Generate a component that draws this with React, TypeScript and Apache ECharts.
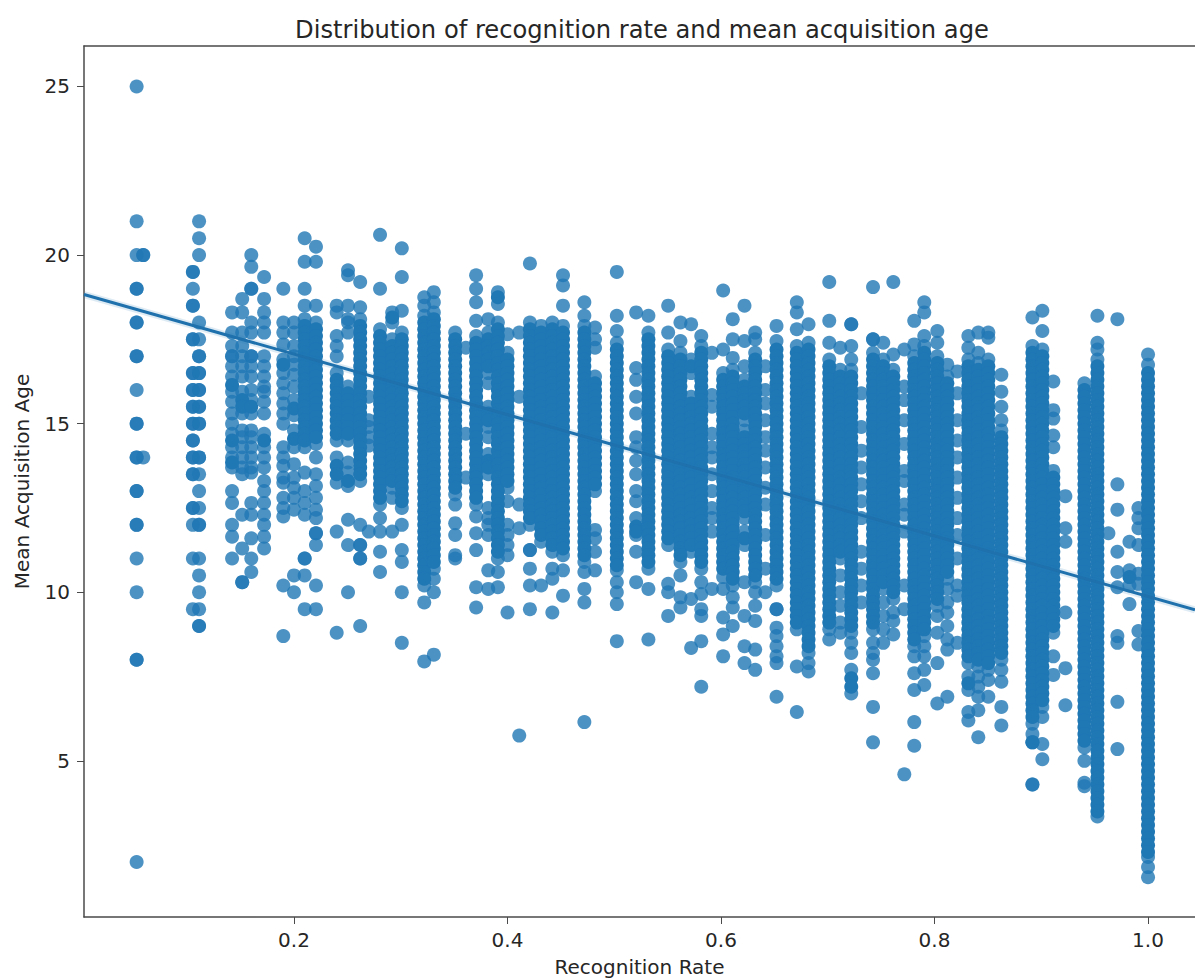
import React, { useEffect, useRef } from "react";
import * as echarts from "echarts";

const titleText = "Distribution of recognition rate and mean acquisition age";
const xName = "Recognition Rate";
const yName = "Mean Acquisition Age";
const xTicks = [0.2, 0.4, 0.6, 0.8, 1.0];
const yTicks = [5, 10, 15, 20, 25];

const fitRate = [0.0033, 1.044];
const fitAge = [18.83, 9.48];

const r01 = [25,21,20,19,19,18,18,17,17,16,15,15,14,14,13,13,12,12,11,10,8,8,2];
const r02 = [20,20,14];
const r03 = [19.5,19.5,19,18.5,18.5,17.5,17.5,16.5,16.5,16,16,15.5,15.5,15,15,14.5,14.5,14,14,13.5,13.5,12.5,12.5,12,11,9.5];
const r04 = [21,20.5,20,18,17.5,17,17,16.5,16.5,16,16,15.5,15.5,15,15,14,14,13.5,13,12.5,12,12,11,10.5,10,9.5,9,9];
const r05 = [18.3,17.7,17.3,17,17,16.7,16.4,16.15,15.95,15.65,15.3,15,14.7,14.5,14.3,14,13.85,13.7,13,12.65,12,11.65,11];
const r06 = [18.7,18.3,17.7,17.3,17,16.7,16.4,15.95,15.7,15.5,15.3,14.8,14.6,14.3,14,13.7,13.5,12.3,11.3,10.3,10.3];
const r07 = [20,19.65,19,19,18,17.7,17,17,16.7,16.4,16,15.7,15.5,15.3,14.8,14.6,14.3,14,13.7,13.55,12.65,12.3,11.6,11,10.6];
const r08 = [19.35,18.7,18.3,18,17.7,17,16.7,16.4,16.1,15.95,15.65,15.3,14.7,14.5,14.3,14,13.7,13.3,13,12.65,12.3,12,11.65,11.3];
const r09 = [19,18,17.7,17.35,16.9,16.75,16.5,16.2,15.9,15.6,15.3,15,14.3,14,13.75,13.4,13.25,12.8,12.5,12.25,10.2,8.7];
const r10 = [18,17.7,17.3,17,16.75,16.45,16.1,15.7,15.45,15.25,14.8,14.55,14.3,13.8,13.4,13.1,12.8,12.45,10.5,10];
const r11 = [20.5,19.8,19,18.5,18.1,17.9,17.7,17.5,17.3,17.1,16.9,16.7,16.5,16.3,16.1,15.9,15.7,15.5,15.3,15.1,14.9,14.7,14.5,14.3,13.55,13,12.65,12.3,11,11,10.5,9.5];
const r12 = [20.25,19.8,18.5,18,17.8,17.6,17.4,17.2,17,16.8,16.6,16.4,16.2,16,15.8,15.6,15.4,15.2,15,14.8,14.6,14.4,14,13.5,13.15,12.8,12.45,12.2,11.75,11.75,11.4,10.2,9.5];
const r13 = [18.5,18.3,17.6,17.3,17,16.5,16.3,16.1,15.9,15.7,15.5,15.3,15.1,14.9,14.7,14.5,14,13.75,13.5,13.25,11.8,8.8];
const r14 = [19.55,19.4,18.5,18.1,18,17.7,16.1,15.9,15.7,15.5,15.3,15.1,14.9,14.7,14.5,13.85,13.55,13.3,13.15,12.15,11.4,10];
const r15 = [19.2,18.45,18.1,17.9,17.7,17.5,17.3,17.1,16.9,16.7,16.5,16.3,16.1,15.9,15.7,15.5,15.3,15.1,14.9,14.7,14.5,14.3,14.1,13.9,13.7,13.5,13.3,12,11.4,11.4,11,11,9];
const r16 = [15.8,15.1,14.9,14.6,14.35,11.8];
const r17 = [20.6,19,17.8,17.6,17.4,17.2,17,16.8,16.6,16.4,16.2,16,15.8,15.6,15.4,15.2,15,14.8,14.6,14.4,14.2,14,13.8,13.6,13.4,13.2,13,12.8,12.6,12.2,11.8,11.2,10.6];
const r18 = [18.3,18.15,18,17.5,17.3,17.1,16.9,16.7,16.5,16.3,16.1,15.9,15.7,15.5,15.3,15.1,14.9,14.7,14.5,14.3,14.1,13.9,13.7,13.5,13.3,13.1,12.8,11.8];
const r19 = [20.2,19.35,18.35,17.7,17.5,17.3,17.1,16.9,16.7,16.5,16.3,16.1,15.9,15.7,15.5,15.3,15.1,14.9,14.7,14.5,14.3,14.1,13.9,13.7,13.5,13.3,13.1,12.9,12.7,12.5,12,11.25,10.9,10,8.5];
const r20 = [18.75,18.5,18.2,18,17.8,17.6,17.4,17.2,17,16.8,16.6,16.4,16.2,16,15.8,15.6,15.4,15.2,15,14.8,14.6,14.4,14.2,14,13.8,13.6,13.4,13.2,13,12.8,12.6,12.4,12.2,12,11.8,11.6,11.4,11.2,11,10.8,10.6,10.4,10.2,9.7,7.95];
const r21 = [18.9,18.6,18.3,18.1,17.9,17.7,17.5,17.3,17.1,16.9,16.7,16.5,16.3,16.1,15.9,15.7,15.5,15.3,15.1,14.9,14.7,14.5,14.3,14.1,13.9,13.7,13.5,13.3,13.1,12.9,12.7,12.5,12.3,12.1,11.9,11.7,11.5,11.3,11.1,10.9,10.7,10.4,10,8.15];
const r22 = [17.7,17.5,17.3,17.1,16.9,16.7,16.5,16.3,16.1,15.9,15.7,15.5,15.3,15.1,14.9,14.7,14.5,14.3,14.1,13.9,13.7,13.5,13.3,13.1,12.9,12.6,12.05,11.7,11.1,11];
const r23 = [17.25,14.7,13.4];
const r24 = [19.4,19,18.6,18.05,17.6,17.4,17.2,17,16.8,16.6,16.4,16.2,16,15.8,15.6,15.4,15.2,15,14.8,14.6,14.4,14.2,14,13.8,13.6,13.4,13.2,13,12.8,12.6,12.25,11.75,11.25,10.15,9.55];
const r25 = [18.1,17.7,17.5,17.3,17.1,16.9,16.7,16.5,16.2,15.5,15.3,15.1,14.9,14.6,14.1,13.9,13.7,13.5,12.5,12.2,12,11.7,10.65,10.1];
const r26 = [18.9,18.75,18.55,18,17.8,17.6,17.4,17.2,17,16.8,16.6,16.4,16.2,16,15.8,15.6,15.4,15.2,15,14.8,14.6,14.4,14.2,14,13.8,13.6,13.4,13.2,13,12.8,12.6,12.4,12.2,12,11.8,11.6,11.4,11.2,11,10.6,10.15];
const r27 = [17.65,17.1,16.9,16.7,16.5,16.3,16.1,15.9,15.7,15.5,15.3,15.1,14.9,14.7,14.5,14.3,14.1,13.9,13.7,13.5,13.3,13.1,12.7,12,11.7,11.4,11.1,9.4];
const r28 = [17.7,15.8,12.6,11.9,5.75];
const r29 = [19.75,18,17.8,17.6,17.4,17.2,17,16.8,16.6,16.4,16.2,16,15.8,15.6,15.4,15.2,15,14.8,14.6,14.4,14.2,14,13.8,13.6,13.4,13.2,13,12.8,12.6,12.4,12.2,12,11.25,11.25,10.7,10.2,9.5];
const r30 = [17.9,17.7,17.5,17.3,17.1,16.9,16.7,16.5,16.3,16.1,15.9,15.7,15.5,15.3,15.1,14.9,14.7,14.5,14.3,14.1,13.9,13.7,13.5,13.3,13.1,12.9,12.7,12.5,12.3,12.1,11.9,11.7,11.5,10.2];
const r31 = [18,17.8,17.6,17.4,17.2,17,16.8,16.6,16.4,16.2,16,15.8,15.6,15.4,15.2,15,14.8,14.6,14.4,14.2,14,13.8,13.6,13.4,13.2,13,12.8,12.6,12.4,12.2,12,11.8,11.6,11.4,11.2,10.7,10.4,9.4];
const r32 = [19.4,19.1,18.5,17.9,17.7,17.5,17.3,17.1,16.9,16.7,16.5,16.3,16.1,15.9,15.7,15.5,15.3,15.1,14.9,14.7,14.5,14.3,14.1,13.9,13.7,13.5,13.3,13.1,12.9,12.7,12.5,12.3,12.1,11.9,11.7,11.5,11.3,11.1,10.65,9.9];
const r33 = [18.6,18.2,17.9,17.7,17.5,17.3,17.1,16.9,16.7,16.5,16.3,16.1,15.9,15.7,15.5,15.3,15.1,14.9,14.7,14.5,14.3,14.1,13.9,13.7,13.5,13.3,13.1,12.9,12.7,12.5,12.3,12.1,11.9,11.7,11.5,11.3,11.1,10.9,10.6,10.1,9.7,6.15];
const r34 = [17.85,17.5,17.25,16.4,16.2,16,15.8,15.6,15.4,15.2,15,14.8,14.6,14.4,14.2,14,13.8,13.6,13.4,13.2,13,11.85,11.6,11.2,10.65];
const r35 = [19.5,18.2,17.75,17.4,17.2,17,16.8,16.6,16.4,16.2,16,15.8,15.6,15.4,15.2,15,14.8,14.6,14.4,14.2,14,13.8,13.6,13.4,13.2,13,12.8,12.6,12.4,12.2,12,11.8,11.6,11.4,11.2,11,10.8,10.65,10.3,10,9.65,8.55];
const r36 = [18.3,16.65,16.3,15.8,15.3,14.6,14.3,13.9,13.5,13,12.7,12.2,11.95,11.8,11.7,11.2,10.3];
const r37 = [18.2,17.7,17.5,17.3,17.1,16.9,16.7,16.5,16.3,16.1,15.9,15.7,15.5,15.3,15.1,14.9,14.7,14.5,14.3,14.1,13.9,13.7,13.5,13.3,13.1,12.9,12.7,12.5,12.3,12.1,11.9,11.7,11.5,11.3,11.1,10.9,10.7,10.1,8.6];
const r38 = [18.5,17.7,17.2,17,16.8,16.6,16.4,16.2,16,15.8,15.6,15.4,15.2,15,14.8,14.6,14.4,14.2,14,13.8,13.6,13.4,13.2,13,12.8,12.6,12.4,12.2,12,11.8,11.6,11.4,10.25,10,9.3];
const r39 = [18,17.45,17.1,16.9,16.7,16.5,16.3,16.1,15.9,15.7,15.5,15.3,15.1,14.9,14.7,14.5,14.3,14.1,13.9,13.7,13.5,13.3,13.1,12.9,12.7,12.5,12.3,12.1,11.9,11.7,11.5,11.3,11.1,10.9,10.5,9.85,9.55];
const r40 = [17.95,16.9,16.7,16.5,15.8,15.6,15.4,15.2,15,14.8,14.6,14.4,14.2,14,13.8,13.6,13.4,13.2,13,12.8,12.6,12.4,12.2,12,11.8,11.6,11.4,11.2,9.8,8.35];
const r41 = [17.6,17.3,17.1,16.9,16.7,16.5,16.3,16.1,15.9,15.7,15.5,15.3,15.1,14.9,14.7,14.5,14.3,14.1,13.9,13.7,13.5,13.3,13.1,12.9,12.7,12.5,12.3,12.1,11.9,11.7,11.5,11.3,11.1,10.9,10.7,10.3,9.95,9.5,9.3,8.55,7.2];
const r42 = [17.1,15.85,15.5,14.7,14.3,14,13.5,13,12.5,12.2,11.8,10.1];
const r43 = [18.95,17.2,16.5,16.3,16.1,15.9,15.7,15.5,15.3,15.1,14.9,14.7,14.5,14.3,14.1,13.9,13.7,13.5,13.3,13.1,12.9,12.7,12.5,12.3,12.1,11.9,11.7,11.5,11.3,11.1,10.9,10.7,10.45,10.1,9.25,8.75,8.1];
const r44 = [18.1,17.5,16.95,16.6,16.4,16.2,16,15.8,15.6,15.4,15.2,15,14.8,14.6,14.4,14.2,14,13.8,13.6,13.4,13.2,13,12.8,12.6,12.4,12.2,12,11.8,11.6,11.4,11.2,11,10.8,10.6,10.4,10.2,9.85,9.55,9];
const r45 = [18.5,17.45,16.7,16.3,16.1,15.9,15.7,15.5,15.3,15.1,14.8,14.6,14.4,14.2,14,13.8,13.6,13.4,13.2,13,12.8,12.6,12.4,12.2,11.8,11.6,11.4,10.3,9.3,8.4,7.9];
const r46 = [17.7,17.5,17.1,16.9,16.7,16.5,16.3,16.1,15.9,15.7,15.5,15.3,15.1,14.9,14.7,14.5,14.3,14.1,13.9,13.7,13.5,13.3,13.1,12.9,12.7,12.5,12.3,12.1,11.9,11.7,11.5,11.3,11.1,10.9,10.7,10.5,10.3,10,9.6,9.15,8.3,7.7];
const r47 = [16.7,16,15.6,15.1,14.6,14.2,13.7,13.1,12.6,11.7,10.7,10];
const r48 = [17.9,17.45,17.2,17,16.8,16.6,16.4,16.2,16,15.8,15.6,15.4,15.2,15,14.8,14.6,14.4,14.2,14,13.8,13.6,13.4,13.2,13,12.8,12.6,12.4,12.2,12,11.8,11.6,11.4,11.2,11,10.8,10.6,10.4,10.2,9.5,9.5,8.95,8.7,8.4,8.1,7.9,6.9];
const r49 = [18.6,18.3,17.8,17.3,17.1,16.9,16.7,16.5,16.3,16.1,15.9,15.7,15.5,15.3,15.1,14.9,14.7,14.5,14.3,14.1,13.9,13.7,13.5,13.3,13.1,12.9,12.7,12.5,12.3,12.1,11.9,11.7,11.5,11.3,11.1,10.9,10.7,10.5,10.3,10.1,9.9,9.7,9.5,9.3,9.1,8.9,7.8,6.45];
const r50 = [17.95,17.4,17.2,17,16.8,16.6,16.4,16.2,16,15.8,15.6,15.4,15.2,15,14.8,14.6,14.4,14.2,14,13.8,13.6,13.4,13.2,13,12.8,12.6,12.4,12.2,12,11.8,11.6,11.4,11.2,11,10.8,10.6,10.4,10.2,10,9.8,9.6,9.4,9.2,9,8.8,8.6,8.4,8.2,7.9,7.65];
const r51 = [19.2,18.05,17.4,16.9,16.7,16.5,16.3,16.1,15.9,15.7,15.5,15.3,15.1,14.9,14.7,14.5,14.3,14.1,13.9,13.7,13.5,13.3,13.1,12.9,12.7,12.5,12.3,12.1,11.9,11.7,11.5,11.3,11.1,10.9,10.7,10.5,10.3,10.1,9.9,9.7,9.5,9.3,9.1,8.9,8.6];
const r52 = [17.25,16.6,16.4,16.2,16,15.8,15.6,15.4,15.2,15,14.8,14.6,14.4,14.2,14,13.8,13.6,13.4,13.2,13,12.8,12.6,12.4,12.2,12,11.8,11.6,11.4,11.2,11,10.5,10,9.6,9.1,8.8];
const r53 = [17.95,17.95,17.3,16.9,16.6,16.4,16.2,16,15.8,15.6,15.4,15.2,15,14.8,14.6,14.4,14.2,14,13.8,13.6,13.4,13.2,13,12.8,12.6,12.4,12.2,12,11.8,11.6,11.4,11.2,11,10.8,10.6,10.4,10.2,10,9.8,9.6,9.4,9.2,9,8.8,8.5,8.2,7.7,7.45,7.2,7];
const r54 = [15.9,14.9,14.2,13.7,13.2,12.7,12.2,11.2,10.7,10.2,9.7];
const r55 = [19.05,17.5,17.5,17.1,16.9,16.7,16.5,16.3,16.1,15.9,15.7,15.5,15.3,15.1,14.9,14.7,14.5,14.3,14.1,13.9,13.7,13.5,13.3,13.1,12.9,12.7,12.5,12.3,12.1,11.9,11.7,11.5,11.3,11.1,10.9,10.7,10.5,10.3,10.1,9.9,9.7,9.5,9.3,9.1,8.9,8.5,8.2,8,7.6,6.6,5.55];
const r56 = [17.4,16.9,16.7,16.5,16.3,16.1,15.9,15.7,15.5,15.3,15.1,14.9,14.7,14.5,14.3,14.1,13.9,13.7,13.5,13.3,13.1,12.9,12.7,12.5,12.3,12.1,11.9,11.7,11.5,11.3,11.1,10.9,10.7,10.5,10.3,10.1,9.7,9.3,8.9,8.5];
const r57 = [19.2,17.05,16.6,16.4,16.2,16,15.8,15.6,15.4,15.2,15,14.8,14.6,14.4,14.2,14,13.8,13.6,13.4,13.2,13,12.8,12.6,12.4,12.2,12,11.8,11.6,11.4,11.2,11,10.8,10.6,10.4,10.2,10,9.8,9.4,9.15,8.75];
const r58 = [17.2,16.1,15.7,15.1,14.4,13.6,13.3,12.6,12.3,11.8,10.2,9.5,4.6];
const r59 = [18.05,17.35,17,16.8,16.6,16.4,16.2,16,15.8,15.6,15.4,15.2,15,14.8,14.6,14.4,14.2,14,13.8,13.6,13.4,13.2,13,12.8,12.6,12.4,12.2,12,11.8,11.6,11.4,11.2,11,10.8,10.6,10.4,10.2,10,9.8,9.6,9.4,9.2,9,8.8,8.6,8.4,8.1,7.6,7.1,6.15,5.45];
const r60 = [18.6,18.3,17.6,17.3,17.1,16.9,16.7,16.5,16.3,16.1,15.9,15.7,15.5,15.3,15.1,14.9,14.7,14.5,14.3,14.1,13.9,13.7,13.5,13.3,13.1,12.9,12.7,12.5,12.3,12.1,11.9,11.7,11.5,11.3,11.1,10.9,10.7,10.5,10.3,10.1,9.9,9.7,9.5,9.3,9.1,8.9,8.7,8.4,8.1,7.7,7.25];
const r61 = [17.75,17.4,17,16.8,16.6,16.4,16.2,16,15.8,15.6,15.4,15.2,15,14.8,14.6,14.4,14.2,14,13.8,13.6,13.4,13.2,13,12.8,12.6,12.4,12.2,12,11.8,11.6,11.4,11.2,11,10.8,10.6,10.4,10.2,10,9.8,9.6,9.3,8.8,7.9,6.7];
const r62 = [16.75,16.4,16.2,16,15.8,15.6,15.4,15.2,15,14.8,14.6,14.4,14.2,14,13.8,13.6,13.4,13.2,13,12.8,12.6,12.4,12.2,12,11.8,11.6,11.4,11.2,11,10.8,10.6,10.4,10.1,9.7,9.4,9,8.6,8.3,6.9];
const r63 = [16.55,15.9,15.1,14.5,14,13.4,12.8,12.2,11.7,11,10.2,9.9,8.5];
const r64 = [17.6,17.25,16.9,16.7,16.5,16.3,16.1,15.9,15.7,15.5,15.3,15.1,14.9,14.7,14.5,14.3,14.1,13.9,13.7,13.5,13.3,13.1,12.9,12.7,12.5,12.3,12.1,11.9,11.7,11.5,11.3,11.1,10.9,10.7,10.5,10.3,10.1,9.9,9.7,9.5,9.3,9.1,8.9,8.7,8.5,8.3,8.1,7.9,7.5,7.3,7.1,6.45,6.2];
const r65 = [17.7,17.1,16.8,16.6,16.4,16.2,16,15.8,15.6,15.4,15.2,15,14.8,14.6,14.4,14.2,14,13.8,13.6,13.4,13.2,13,12.8,12.6,12.4,12.2,12,11.8,11.6,11.4,11.2,11,10.8,10.6,10.4,10.2,10,9.8,9.6,9.4,9.2,9,8.8,8.6,8.4,8.2,8,7.8,7.5,7.2,6.9,6.5,5.7];
const r66 = [17.7,17.55,16.9,16.7,16.5,16.3,16.1,15.9,15.7,15.5,15.3,15.1,14.9,14.7,14.5,14.3,14.1,13.9,13.7,13.5,13.3,13.1,12.9,12.7,12.5,12.3,12.1,11.9,11.7,11.5,11.3,11.1,10.9,10.7,10.5,10.3,10.1,9.9,9.7,9.5,9.3,9.1,8.9,8.7,8.5,8.3,8.1,7.9,7.7,7.4,6.9];
const r67 = [16.45,15.95,15.5,15.1,14.8,14.6,14.4,14.2,14,13.8,13.6,13.4,13.2,13,12.8,12.6,12.4,12.2,12,11.8,11.6,11.4,11.2,11,10.8,10.6,10.4,10.2,10,9.8,9.6,9.4,9.2,9,8.8,8.6,8.4,8.2,8,7.7,7.35,6.6,6.05];
const r68 = [18.15,17.3,17.1,16.9,16.7,16.5,16.3,16.1,15.9,15.7,15.5,15.3,15.1,14.9,14.7,14.5,14.3,14.1,13.9,13.7,13.5,13.3,13.1,12.9,12.7,12.5,12.3,12.1,11.9,11.7,11.5,11.3,11.1,10.9,10.7,10.5,10.3,10.1,9.9,9.7,9.5,9.3,9.1,8.9,8.7,8.5,8.3,8.1,7.9,7.7,7.5,7.3,7.1,6.9,6.7,6.5,6.3,6.1,5.8,5.55,5.55,4.3,4.3];
const r69 = [18.35,17.75,17.2,17,16.8,16.6,16.4,16.2,16,15.8,15.6,15.4,15.2,15,14.8,14.6,14.4,14.2,14,13.8,13.6,13.4,13.2,13,12.8,12.6,12.4,12.2,12,11.8,11.6,11.4,11.2,11,10.8,10.6,10.4,10.2,10,9.8,9.6,9.4,9.2,9,8.8,8.6,8.4,8.2,8,7.8,7.6,7.4,7.2,7,6.8,6.6,6.3,5.5,5.05];
const r70 = [16.25,15.4,15.15,14.65,14.3,13.6,13.4,13.2,13,12.8,12.6,12.4,12.2,12,11.8,11.6,11.4,11.2,11,10.8,10.6,10.4,10.2,10,9.8,9.6,9.4,9.2,9,8.8,8.1,7.55];
const r71 = [12.85,11.9,11.5,9.4,7.75,6.65];
const r72 = [16.2,16,15.8,15.6,15.4,15.2,15,14.8,14.6,14.4,14.2,14,13.8,13.6,13.4,13.2,13,12.8,12.6,12.4,12.2,12,11.8,11.6,11.4,11.2,11,10.8,10.6,10.4,10.2,10,9.8,9.6,9.4,9.2,9,8.8,8.6,8.4,8.2,8,7.8,7.6,7.4,7.2,7,6.8,6.6,6.4,6.2,6,5.8,5.6,5.4,5,4.35,4.25];
const r73 = [18.2,17.4,17.2,16.9,16.7,16.5,16.3,16.1,15.9,15.7,15.5,15.3,15.1,14.9,14.7,14.5,14.3,14.1,13.9,13.7,13.5,13.3,13.1,12.9,12.7,12.5,12.3,12.1,11.9,11.7,11.5,11.3,11.1,10.9,10.7,10.5,10.3,10.1,9.9,9.7,9.5,9.3,9.1,8.9,8.7,8.5,8.3,8.1,7.9,7.7,7.5,7.3,7.1,6.9,6.7,6.5,6.3,6.1,5.9,5.7,5.5,5.3,5.1,4.9,4.7,4.5,4.3,4.1,3.9,3.7,3.5,3.35];
const r74 = [11.75];
const r75 = [18.1,13.2,12.45,11.2,10.6,10.15,8.7,8.5,6.75,5.35];
const r76 = [11.5,10.65,10.45,10.2,9.65];
const r77 = [12.5,12.2,11.9,11.4,10.55,10.25,8.85,8.45];
const r78 = [17.05,16.75,16.5,16.3,16.1,15.9,15.7,15.5,15.3,15.1,14.9,14.7,14.5,14.3,14.1,13.9,13.7,13.5,13.3,13.1,12.9,12.7,12.5,12.3,12.1,11.9,11.7,11.5,11.3,11.1,10.9,10.7,10.5,10.3,10.1,9.9,9.7,9.5,9.3,9.1,8.9,8.7,8.5,8.3,8.1,7.9,7.7,7.5,7.3,7.1,6.9,6.7,6.5,6.3,6.1,5.9,5.7,5.5,5.3,5.1,4.9,4.7,4.5,4.3,4.1,3.9,3.7,3.5,3.3,3.1,2.9,2.7,2.5,2.3,2.15,1.85,1.55];

const rates = [0.0526,0.0588,0.1053,0.1111,0.142,0.1515,0.16,0.172,0.19,0.2,0.21,0.2206,0.24,0.2506,0.262,0.27,0.2806,0.292,0.301,0.322,0.331,0.351,0.361,0.3706,0.382,0.391,0.4,0.411,0.421,0.4315,0.442,0.452,0.472,0.482,0.5024,0.5205,0.532,0.5505,0.562,0.572,0.5815,0.5915,0.602,0.611,0.622,0.632,0.6415,0.652,0.671,0.682,0.7014,0.7117,0.722,0.7314,0.7424,0.752,0.7614,0.7717,0.781,0.7904,0.8026,0.812,0.8214,0.8317,0.841,0.8504,0.8626,0.8917,0.901,0.9113,0.9226,0.9404,0.9526,0.9629,0.9713,0.9826,0.991,1.0];
const agesByRate = [r01,r02,r03,r04,r05,r06,r07,r08,r09,r10,r11,r12,r13,r14,r15,r16,r17,r18,r19,r20,r21,r22,r23,r24,r25,r26,r27,r28,r29,r30,r31,r32,r33,r34,r35,r36,r37,r38,r39,r40,r41,r42,r43,r44,r45,r46,r47,r48,r49,r50,r51,r52,r53,r54,r55,r56,r57,r58,r59,r60,r61,r62,r63,r64,r65,r66,r67,r68,r69,r70,r71,r72,r73,r74,r75,r76,r77,r78];

const TEXT = "#262626";
const LINE = "#4a4a4a";
const FONT = "'DejaVu Sans', sans-serif";
const NEAR = 0.26;

export default function App() {
  const ref = useRef<HTMLDivElement>(null);
  useEffect(() => {
    document.body.style.margin = "0";
    const chart = echarts.init(ref.current!, undefined, { renderer: "svg" });
    const loose: number[][] = [];
    const packed: number[][] = [];
    rates.forEach((r, i) => {
      const ages = agesByRate[i];
      ages.forEach((a, j) => {
        const above = j > 0 && ages[j - 1] - a <= NEAR;
        const below = j < ages.length - 1 && a - ages[j + 1] <= NEAR;
        (above && below ? packed : loose).push([r, a]);
      });
    });
    const fit = fitRate.map((r, i) => [r, fitAge[i]]);
    chart.setOption({
      animation: false,
      backgroundColor: "#ffffff",
      title: {
        text: titleText,
        left: 637,
        top: 13,
        textAlign: "center",
        textStyle: { fontFamily: FONT, fontSize: 24.2, fontWeight: "normal", color: TEXT },
      },
      grid: { left: 84, top: 46, right: 0, bottom: 61, show: false, outerBoundsMode: "none" },
      xAxis: [
        {
          type: "value",
          min: 0.0033,
          max: 1.044,
          name: xName,
          nameLocation: "middle",
          nameGap: 40,
          nameTextStyle: { fontFamily: FONT, fontSize: 20, color: TEXT },
          splitLine: { show: false },
          axisLine: { show: true, onZero: false, lineStyle: { color: LINE, width: 1.5 } },
          axisTick: { show: true, length: 7, customValues: xTicks, lineStyle: { color: LINE } },
          axisLabel: { customValues: xTicks, margin: 13, fontFamily: FONT, fontSize: 20, color: TEXT, formatter: (v: number) => v.toFixed(1) },
        },
        {
          type: "value",
          position: "top",
          min: 0.0033,
          max: 1.044,
          splitLine: { show: false },
          axisLine: { show: true, onZero: false, lineStyle: { color: LINE, width: 1.5 } },
          axisTick: { show: false },
          axisLabel: { show: false },
        },
      ],
      yAxis: {
        type: "value",
        min: 0.37,
        max: 26.2,
        name: yName,
        nameLocation: "middle",
        nameGap: 52,
        nameTextStyle: { fontFamily: FONT, fontSize: 20, color: TEXT },
        splitLine: { show: false },
        axisLine: { show: true, onZero: false, lineStyle: { color: LINE, width: 1.5 } },
        axisTick: { show: true, length: 7, customValues: yTicks, lineStyle: { color: LINE } },
        axisLabel: { customValues: yTicks, margin: 14, fontFamily: FONT, fontSize: 20, color: TEXT },
      },
      series: [
        {
          type: "scatter",
          data: loose,
          symbol: "circle",
          symbolSize: 14,
          itemStyle: { color: "#1f77b4", opacity: 0.8 },
          silent: true,
        },
        {
          type: "scatter",
          data: packed,
          symbol: "circle",
          symbolSize: 14,
          itemStyle: { color: "#1f77b4", opacity: 1 },
          silent: true,
        },
        {
          type: "line",
          data: fit,
          symbol: "none",
          lineStyle: { color: "#1f77b4", width: 7, opacity: 0.15 },
          silent: true,
        },
        {
          type: "line",
          data: fit,
          symbol: "none",
          lineStyle: { color: "#1e71ac", width: 3 },
          silent: true,
        },
      ],
    });
    return () => chart.dispose();
  }, []);
  return <div ref={ref} style={{ width: 1195, height: 978 }} />;
}
